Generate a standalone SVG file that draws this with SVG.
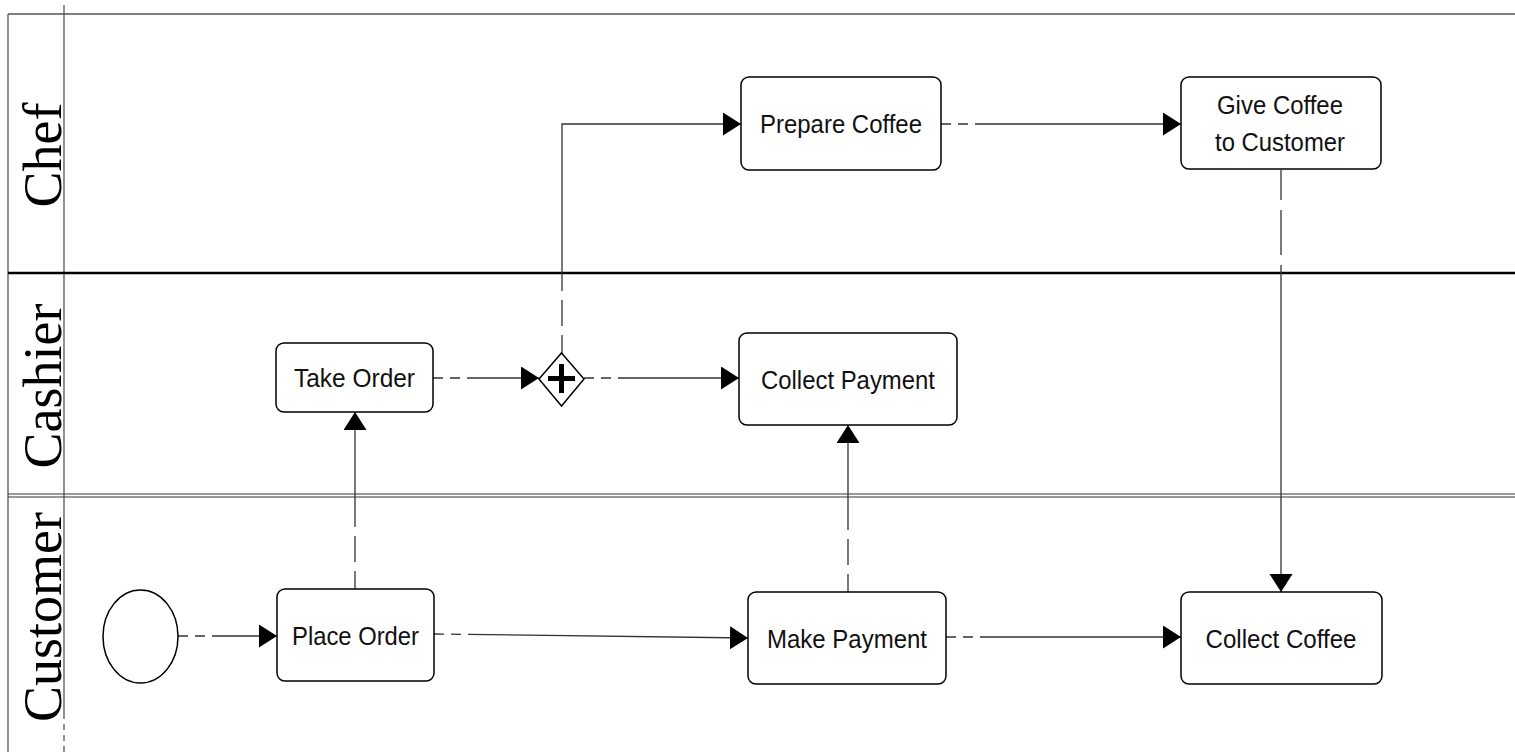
<svg xmlns="http://www.w3.org/2000/svg" width="1515" height="752" viewBox="0 0 1515 752">
<style>
.task{fill:#fff;stroke:#000;stroke-width:1.5}
.lbl{font-family:"Liberation Sans",Arial,sans-serif;font-size:26.5px;fill:#111;text-anchor:middle}
.lane{font-family:"Liberation Serif","Times New Roman",serif;font-size:54px;fill:#000;text-anchor:middle}
.conn{fill:none;stroke:#333;stroke-width:1.3;stroke-dasharray:10 7 10 7 3000;marker-end:url(#arr)}
.connv{fill:none;stroke:#333;stroke-width:1.3;stroke-dasharray:18 9 26 9 3000;marker-end:url(#arr)}
.pool{fill:none;stroke:#555;stroke-width:1.3}
</style>
<defs>
<marker id="arr" markerUnits="userSpaceOnUse" markerWidth="19" markerHeight="24" refX="18" refY="11.5" orient="auto">
<path d="M0,0 L18,11.5 L0,23 z" fill="#000"/>
</marker>
</defs>
<rect width="1515" height="752" fill="#fff"/>
<g id="pool">
<line class="pool" x1="8" y1="14" x2="1515" y2="14"/>
<line class="pool" x1="8" y1="14" x2="8" y2="752"/>
<line class="pool" x1="64" y1="5" x2="64" y2="713"/>
<line class="pool" x1="64" y1="713" x2="64" y2="752" stroke-dasharray="6 5"/>
<line x1="8" y1="273" x2="1515" y2="273" stroke="#000" stroke-width="2.5"/>
<line x1="8" y1="494" x2="1515" y2="494" stroke="#333" stroke-width="1"/>
<line x1="8" y1="497" x2="1515" y2="497" stroke="#333" stroke-width="1"/>
</g>
<g id="lane-chef"><text class="lane" transform="translate(61,155) rotate(-90)">Chef</text></g>
<g id="lane-cashier"><text class="lane" transform="translate(61,386) rotate(-90)">Cashier</text></g>
<g id="lane-customer"><text class="lane" transform="translate(61,617) rotate(-90)">Customer</text></g>
<g id="connectors">
<path class="conn" d="M178 636 H277"/>
<path class="conn" d="M434 634 L748 638"/>
<path class="conn" d="M946 637 H1181"/>
<path class="connv" d="M355 589 V412"/>
<path class="connv" d="M848 592 V425"/>
<path class="conn" d="M433 378 H539"/>
<path class="conn" d="M584 378 H739"/>
<path class="connv" d="M562 353 V124 H741"/>
<path class="conn" d="M941 124 H1181"/>
<path class="connv" d="M1281 170 V592" style="stroke-dasharray:30 10 45 10 3000"/>
</g>
<g id="start"><ellipse cx="140.5" cy="636.5" rx="37.5" ry="46.5" fill="#fff" stroke="#000" stroke-width="1.5"/></g>
<g id="take-order"><rect class="task" x="276" y="343" width="157" height="69" rx="8"/><text class="lbl" x="354.5" y="387" textLength="121" lengthAdjust="spacingAndGlyphs">Take Order</text></g>
<g id="place-order"><rect class="task" x="277" y="589" width="157" height="92" rx="8"/><text class="lbl" x="355.5" y="644.5" textLength="127" lengthAdjust="spacingAndGlyphs">Place Order</text></g>
<g id="gateway"><path d="M561.5 353 L584 379 L561.5 406 L539 379 Z" fill="#fff" stroke="#000" stroke-width="1.5"/><path d="M548 378.5 H575 M561.5 364 V393" stroke="#000" stroke-width="5" fill="none"/></g>
<g id="collect-payment"><rect class="task" x="739" y="333" width="218" height="92" rx="8"/><text class="lbl" x="848" y="388.5" textLength="174" lengthAdjust="spacingAndGlyphs">Collect Payment</text></g>
<g id="prepare-coffee"><rect class="task" x="741" y="77" width="200" height="93" rx="8"/><text class="lbl" x="841" y="133" textLength="162" lengthAdjust="spacingAndGlyphs">Prepare Coffee</text></g>
<g id="give-coffee"><rect class="task" x="1181" y="77" width="200" height="92" rx="8"/><text class="lbl" x="1280" y="113.5" textLength="126" lengthAdjust="spacingAndGlyphs">Give Coffee</text><text class="lbl" x="1280" y="150.5" textLength="130" lengthAdjust="spacingAndGlyphs">to Customer</text></g>
<g id="make-payment"><rect class="task" x="748" y="592" width="198" height="92" rx="8"/><text class="lbl" x="847" y="647.5" textLength="160" lengthAdjust="spacingAndGlyphs">Make Payment</text></g>
<g id="collect-coffee"><rect class="task" x="1181" y="592" width="201" height="92" rx="8"/><text class="lbl" x="1281" y="647.5" textLength="151" lengthAdjust="spacingAndGlyphs">Collect Coffee</text></g>
</svg>
